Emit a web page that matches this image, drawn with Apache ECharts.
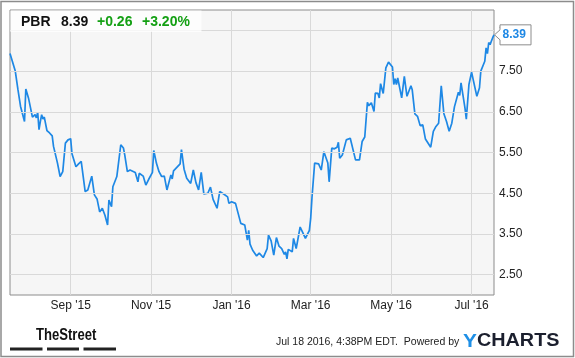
<!DOCTYPE html>
<html>
<head>
<meta charset="utf-8">
<script src="https://cdn.jsdelivr.net/npm/echarts@6/dist/echarts.min.js"></script>
<style>
html,body{margin:0;padding:0;background:#fff;}
#c{width:575px;height:358px;}
</style>
</head>
<body>
<div id="c"></div>
<script>
// ---- data ----
const ticker = 'PBR';
const lastPrice = '8.39';
const change = '+0.26';
const changePct = '+3.20%';
const stampText = 'Jul 18 2016, 4:38PM EDT.  Powered by';
const axisStart = '2015-07-17';
const axisEnd = '2016-07-18';
const yTicks = [2.5, 3.5, 4.5, 5.5, 6.5, 7.5, 8.5];
const labelMonths = [1, 3, 5, 7, 9, 11];
const monthNames = ['Jan','Feb','Mar','Apr','May','Jun','Jul','Aug','Sep','Oct','Nov','Dec'];

const priceDates = [
'2015-07-17','2015-07-21','2015-07-22','2015-07-23','2015-07-25','2015-07-28','2015-07-29','2015-07-31',
'2015-08-01','2015-08-03','2015-08-05','2015-08-06','2015-08-07','2015-08-08','2015-08-09','2015-08-10',
'2015-08-11','2015-08-12','2015-08-14','2015-08-16','2015-08-18','2015-08-19','2015-08-20','2015-08-22',
'2015-08-24','2015-08-26','2015-08-28','2015-08-30','2015-09-01','2015-09-02','2015-09-03','2015-09-05',
'2015-09-07','2015-09-09','2015-09-12','2015-09-14','2015-09-15','2015-09-17','2015-09-19','2015-09-21',
'2015-09-23','2015-09-25','2015-09-27','2015-09-29','2015-09-30','2015-10-02','2015-10-03','2015-10-06',
'2015-10-09','2015-10-11','2015-10-12','2015-10-14','2015-10-16','2015-10-20','2015-10-22','2015-10-23',
'2015-10-26','2015-10-28','2015-10-30','2015-11-02','2015-11-03','2015-11-05','2015-11-07','2015-11-09',
'2015-11-11','2015-11-13','2015-11-16','2015-11-17','2015-11-18','2015-11-23','2015-11-24','2015-11-26',
'2015-11-28','2015-12-01','2015-12-03','2015-12-05','2015-12-07','2015-12-09','2015-12-11','2015-12-14',
'2015-12-16','2015-12-18','2015-12-21','2015-12-23','2015-12-26','2015-12-29','2015-12-30','2016-01-01',
'2016-01-04','2016-01-08','2016-01-11','2016-01-13','2016-01-14','2016-01-15','2016-01-17','2016-01-20',
'2016-01-22','2016-01-25','2016-01-26','2016-01-28','2016-01-29','2016-01-31','2016-02-02','2016-02-04',
'2016-02-06','2016-02-08','2016-02-10','2016-02-11','2016-02-12','2016-02-13','2016-02-16','2016-02-17',
'2016-02-19','2016-02-22','2016-02-24','2016-02-25','2016-02-26','2016-02-29','2016-03-01','2016-03-02',
'2016-03-04','2016-03-07','2016-03-09','2016-03-11','2016-03-14','2016-03-15','2016-03-17','2016-03-19',
'2016-03-21','2016-03-22','2016-03-23','2016-03-25','2016-03-28','2016-03-31','2016-04-01','2016-04-04',
'2016-04-07','2016-04-09','2016-04-11','2016-04-13','2016-04-14','2016-04-16','2016-04-18','2016-04-19',
'2016-04-21','2016-04-22','2016-04-23','2016-04-25','2016-04-27','2016-04-29','2016-04-30','2016-05-02',
'2016-05-03','2016-05-04','2016-05-05','2016-05-06','2016-05-09','2016-05-11','2016-05-12','2016-05-13',
'2016-05-16','2016-05-17','2016-05-19','2016-05-21','2016-05-23','2016-05-25','2016-05-27','2016-05-31',
'2016-06-02','2016-06-04','2016-06-06','2016-06-08','2016-06-10','2016-06-12','2016-06-14','2016-06-16',
'2016-06-18','2016-06-21','2016-06-22','2016-06-23','2016-06-26','2016-06-27','2016-06-29','2016-06-30',
'2016-07-01','2016-07-05','2016-07-07','2016-07-08','2016-07-11','2016-07-12','2016-07-13','2016-07-14',
'2016-07-15','2016-07-17','2016-07-18'
];
const priceValues = [
7.93,7.50,7.47,7.05,6.63,6.26,7.06,6.84,
6.80,6.37,6.43,6.35,6.49,6.06,6.26,6.43,
6.32,6.37,6.04,5.98,5.91,5.65,5.63,5.24,
4.91,5.03,5.73,5.81,5.84,5.47,5.50,5.15,
5.22,5.28,4.54,4.58,4.54,4.92,4.46,4.36,
4.04,4.13,3.96,3.72,4.33,4.17,4.66,4.91,
5.69,5.61,5.44,5.03,5.07,5.01,4.78,4.99,
4.92,4.70,4.83,5.01,5.55,5.24,5.03,4.91,
4.92,4.58,4.95,4.85,5.05,5.22,5.57,5.09,
4.87,4.74,5.07,4.76,4.58,5.01,4.48,4.50,
4.65,4.35,4.13,4.54,4.48,4.41,4.25,4.29,
4.25,3.76,3.72,3.35,3.59,3.25,3.10,2.96,
3.03,2.92,2.93,3.14,3.47,3.33,2.98,3.41,
3.20,3.14,3.00,3.06,2.89,3.12,3.06,3.39,
3.14,3.67,3.53,3.51,3.39,3.59,3.88,4.40,
5.24,5.22,5.07,5.52,5.24,4.78,5.61,5.59,
5.63,5.75,5.36,5.44,5.81,5.85,5.85,5.32,
5.32,5.77,5.88,6.73,6.65,6.72,6.51,6.96,
6.95,6.84,7.19,6.95,7.58,7.72,7.69,7.60,
7.17,7.31,7.17,7.33,6.84,7.37,7.39,6.88,
7.14,7.04,6.45,6.39,6.16,6.18,5.83,5.63,
6.02,6.14,6.22,7.14,6.45,6.26,6.02,6.22,
6.62,6.98,6.90,7.21,6.59,6.32,7.17,7.19,
7.47,6.88,7.09,7.50,7.74,8.07,7.93,8.20,
8.15,8.32,8.39
];

// ---- calendar categories (one per day) ----
const days = [];
(function () {
  let t = Date.parse(axisStart + 'T00:00:00Z');
  const end = Date.parse(axisEnd + 'T00:00:00Z');
  while (t <= end) {
    days.push(new Date(t).toISOString().slice(0, 10));
    t += 86400000;
  }
})();
function isLabelDay(v) {
  const m = +v.slice(5, 7);
  return v.slice(8) === '01' && labelMonths.indexOf(m) >= 0;
}

const FONT = '"Liberation Sans", Arial, sans-serif';
const chart = echarts.init(document.getElementById('c'), null, {renderer: 'canvas'});

const option = {
  animation: false,
  backgroundColor: '#ffffff',
  grid: {
    left: 10, top: 10, width: 484, height: 285,
    show: true, backgroundColor: '#f6f6f6', borderColor: '#8c8c8c', borderWidth: 1
  },
  xAxis: {
    type: 'category',
    data: days,
    boundaryGap: false,
    axisLine: {show: false},
    axisTick: {show: false},
    axisLabel: {
      interval: function (i, v) { return isLabelDay(v); },
      formatter: function (v) {
        return monthNames[+v.slice(5, 7) - 1] + " '" + v.slice(2, 4);
      },
      color: '#222', fontSize: 12, fontFamily: FONT, margin: 5
    },
    splitLine: {
      show: true,
      interval: function (i, v) { return isLabelDay(v); },
      lineStyle: {color: '#d9d9d9', width: 1}
    }
  },
  yAxis: {
    type: 'value',
    position: 'right',
    min: 2, max: 9, interval: 0.5,
    axisLine: {show: false},
    axisTick: {show: false},
    splitLine: {show: false},
    axisLabel: {
      formatter: function (v) { return yTicks.indexOf(v) >= 0 ? v.toFixed(2) : ''; },
      color: '#222', fontSize: 12, fontFamily: FONT, margin: 5
    }
  },
  series: [
    {
      type: 'line', z: 1, silent: true,
      data: priceDates.map((d, i) => [d, priceValues[i]]),
      showSymbol: false,
      lineStyle: {opacity: 0},
      markLine: {
        silent: true, symbol: 'none', animation: false,
        label: {show: false},
        lineStyle: {color: '#d9d9d9', type: 'solid', width: 1},
        data: yTicks.map(v => ({yAxis: v}))
      }
    },
    {
      type: 'line', z: 3,
      data: priceDates.map((d, i) => [d, priceValues[i]]),
      showSymbol: false,
      lineStyle: {color: '#1e88e5', width: 1.7},
      itemStyle: {color: '#1e88e5'}
    }
  ]
};
chart.setOption(option);

// ---- overlay graphics ----
const lastIdx = priceValues.length - 1;
const p = chart.convertToPixel({xAxisIndex: 0, yAxisIndex: 0}, [priceDates[lastIdx], priceValues[lastIdx]]);
const tx = p[0], ty = p[1];

chart.setOption({
  graphic: [
    {type: 'rect', z: 100, silent: true, shape: {x: 1, y: 1.5, width: 572.5, height: 355},
     style: {fill: 'none', stroke: '#8c8c8c', lineWidth: 1.5}},
    {type: 'rect', z: 50, silent: true, shape: {x: 10.5, y: 10.5, width: 191, height: 21.5},
     style: {fill: 'rgba(255,255,255,0.75)'}},
    {type: 'text', z: 51, x: 21, y: 22, silent: true,
     style: {text: ticker, font: 'bold 14px ' + FONT, fill: '#111', verticalAlign: 'middle'}},
    {type: 'text', z: 51, x: 61, y: 22, silent: true,
     style: {text: lastPrice, font: 'bold 14px ' + FONT, fill: '#111', verticalAlign: 'middle'}},
    {type: 'text', z: 51, x: 97, y: 22, silent: true,
     style: {text: change, font: 'bold 14px ' + FONT, fill: '#14a014', verticalAlign: 'middle'}},
    {type: 'text', z: 51, x: 142, y: 22, silent: true,
     style: {text: changePct, font: 'bold 14px ' + FONT, fill: '#14a014', verticalAlign: 'middle'}},
    {type: 'polygon', z: 60, silent: true,
     shape: {points: [[tx + 0.5, ty], [tx + 6, ty - 5], [tx + 6, ty - 10], [tx + 37, ty - 10],
                      [tx + 37, ty + 10], [tx + 6, ty + 10], [tx + 6, ty + 5]]},
     style: {fill: '#fff', stroke: '#8c8c8c', lineWidth: 1}},
    {type: 'text', z: 61, x: tx + 8.5, y: ty, silent: true,
     style: {text: priceValues[lastIdx].toFixed(2), font: 'bold 12px ' + FONT, fill: '#1e88e5', verticalAlign: 'middle'}},
    {type: 'text', z: 51, x: 36, y: 335, scaleX: 0.77, silent: true,
     style: {text: 'TheStreet', font: 'bold 17px "Liberation Sans Narrow", ' + FONT, fill: '#111', verticalAlign: 'middle'}},
    {type: 'rect', z: 51, silent: true, shape: {x: 10, y: 347.5, width: 32.5, height: 3}, style: {fill: '#222'}},
    {type: 'rect', z: 51, silent: true, shape: {x: 47, y: 347.5, width: 32, height: 3}, style: {fill: '#222'}},
    {type: 'rect', z: 51, silent: true, shape: {x: 83.5, y: 347.5, width: 32.5, height: 3}, style: {fill: '#222'}},
    {type: 'text', z: 51, x: 276, y: 342, silent: true,
     style: {text: stampText, font: '10.5px ' + FONT, fill: '#222', verticalAlign: 'middle'}},
    {type: 'text', z: 51, x: 463, y: 341.5, scaleX: 1.1, silent: true,
     style: {text: '{a|Y}{b|CHARTS}', verticalAlign: 'middle',
             rich: {a: {font: 'bold 19px ' + FONT, fill: '#1e8fe6'}, b: {font: 'bold 18px ' + FONT, fill: '#1b1f2e'}}}}
  ]
});
</script>
</body>
</html>
